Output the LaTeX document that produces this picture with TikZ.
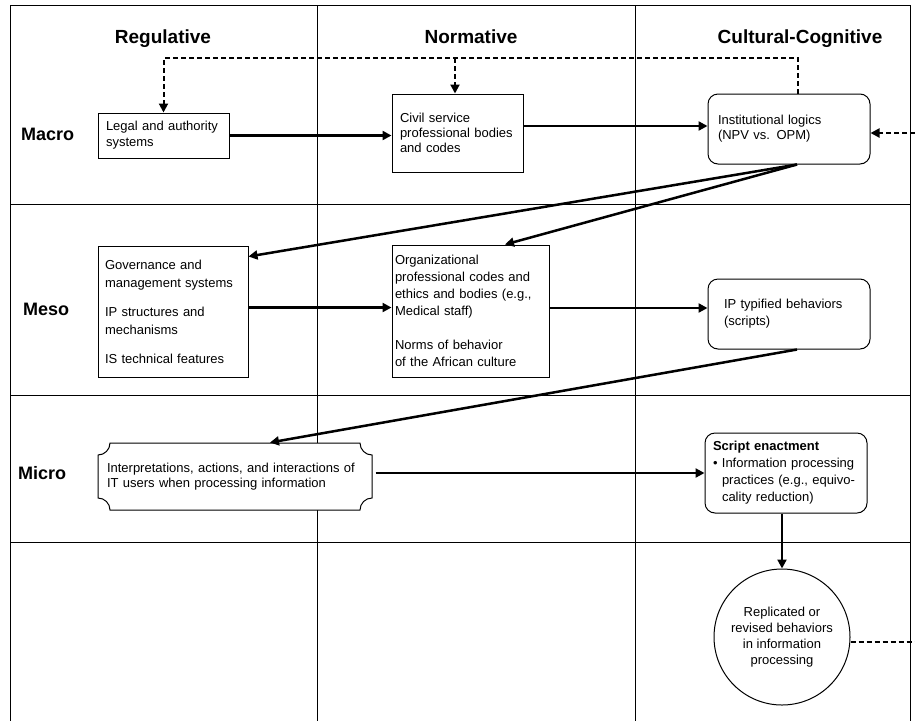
\documentclass[tikz,border=0pt]{standalone}
\usepackage{fontspec}
\setmainfont{Liberation Sans}
\usetikzlibrary{arrows.meta,calc}
\begin{document}
\begin{tikzpicture}[x=1pt,y=-1pt,
 gridline/.style={line width=1pt},
 box/.style={draw, fill=white, line width=1pt, align=left, inner xsep=8pt, inner ysep=0pt, anchor=center, font=\fontsize{13}{16}\selectfont},
 rbox/.style={box, rounded corners=10pt},
 arr/.style={line width=2.5pt, -{Triangle[length=9pt,width=9pt]}},
 darr/.style={line width=2pt, dash pattern=on 5pt off 3pt, -{Triangle[length=9pt,width=9pt]}},
 dline/.style={line width=2pt, dash pattern=on 5pt off 3pt},
 head/.style={font=\fontsize{19}{22}\selectfont\bfseries, anchor=base, inner sep=0pt},
 lvl/.style={font=\fontsize{18}{22}\selectfont\bfseries, anchor=base west, inner sep=0pt},
]
\useasboundingbox (0,0) rectangle (915,721);
% grid
\draw[gridline] (10,5) -- (910,5);
\draw[gridline] (10,204) -- (910,204);
\draw[gridline] (10,395) -- (910,395);
\draw[gridline] (10,542) -- (910,542);
\foreach \xx in {10,317,635,910} \draw[gridline] (\xx,5) -- (\xx,721);
% headers
\node[head] (hR) at (163,43) {Regulative};
\node[head] (hN) at (471,43) {Normative};
\node[head] (hC) at (800,43) {Cultural-Cognitive};
\node[lvl] (lMa) at (21,140) {Macro};
\node[lvl] (lMe) at (23,315) {Meso};
\node[lvl] (lMi) at (18,479) {Micro};
% macro
\node[box, minimum width=131pt, minimum height=45pt, text width=115pt] (legal) at (163.5,135.5) {Legal and authority\\systems};
\node[box, minimum width=131pt, minimum height=78pt, text width=115pt, font=\fontsize{13}{15}\selectfont] (civil) at (457.5,133) {Civil service\\professional bodies\\and codes};
\node[rbox, minimum width=162pt, minimum height=70pt, inner xsep=10pt, text width=142pt, font=\fontsize{13}{15}\selectfont] (inst) at (789,129) {Institutional logics\\(NPV vs. OPM)};
% meso
\node[box, minimum width=150pt, minimum height=131pt, inner xsep=7pt, text width=136pt, font=\fontsize{13}{18}\selectfont] (gov) at (173,311.5) {Governance and\\management systems\\[11pt]IP structures and\\mechanisms\\[11pt]IS technical features};
\node[box, minimum width=157pt, minimum height=132pt, inner xsep=3pt, text width=151pt, font=\fontsize{13}{17}\selectfont] (org) at (470.5,311) {Organizational\\professional codes and\\ethics and bodies (e.g.,\\Medical staff)\\[17pt]Norms of behavior\\of the African culture};
\node[rbox, minimum width=162pt, minimum height=70pt, inner xsep=16pt, text width=130pt, font=\fontsize{13}{17}\selectfont] (ipt) at (789,314) {IP typified behaviors\\(scripts)};
% micro
\draw[line width=1pt, fill=white] (110,443) -- (360,443) .. controls (360,449.6) and (365.4,455) .. (372,455) -- (372,498) .. controls (365.4,498) and (360,503.4) .. (360,510) -- (110,510) .. controls (110,503.4) and (104.6,498) .. (98,498) -- (98,455) .. controls (104.6,455) and (110,449.6) .. (110,443) -- cycle;
\node[box, draw=none, fill=none, minimum width=274pt, minimum height=67pt, inner xsep=9pt, text width=256pt, font=\fontsize{13}{14.5}\selectfont] (micro) at (235,476.5) {Interpretations, actions, and interactions of\\IT users when processing information};
\node[rbox, minimum width=162pt, minimum height=80pt, inner xsep=8pt, text width=146pt, font=\fontsize{13}{17}\selectfont] (script) at (786,473) {\textbf{Script enactment}\\\textbullet\ Information processing\\\hspace*{9pt}practices (e.g., equivo-\\\hspace*{9pt}cality reduction)};
\node[draw, fill=white, circle, line width=1pt, minimum size=136pt, inner sep=0pt, align=center, font=\fontsize{13}{16}\selectfont] (circ) at (782,637) {Replicated or\\revised behaviors\\in information\\processing};
% connectors
\coordinate (dR) at (798,58);
\coordinate (eR1) at (915,133);
\coordinate (eR2) at (915,642);
\draw[arr] (legal.east) -- (legal.east -| civil.west);
\draw[arr] ([yshift=7pt]civil.east) -- ([yshift=7pt]civil.east -| inst.west);
\draw[darr] ([xshift=9pt]inst.north) |- (legal.north |- dR) -- (legal.north);
\draw[darr] ([xshift=-2.5pt]civil.north |- dR) -- ([xshift=-2.5pt]civil.north);
\draw[darr] (eR1) -- (eR1 -| inst.east);
\draw[arr] ([xshift=8pt]inst.south) -- ([yshift=-11pt]gov.north east);
\draw[arr] ([xshift=8pt]inst.south) -- ([xshift=34.5pt]org.north);
\draw[arr] ([yshift=4pt]gov.east) -- ([yshift=4pt]gov.east -| org.west);
\draw[arr] ([yshift=3pt]org.east) -- ([yshift=3pt]org.east -| ipt.west);
\draw[arr] ([xshift=8pt]ipt.south) -- ([xshift=35pt]micro.north);
\draw[arr] ([xshift=3pt]micro.east |- script.west) -- (script.west);
\draw[arr] (circ.north |- script.south) -- (circ.north);
\draw[dline] ([yshift=-5pt]circ.east) -- ([yshift=-5pt]circ.east -| eR2);
\end{tikzpicture}
\end{document}
